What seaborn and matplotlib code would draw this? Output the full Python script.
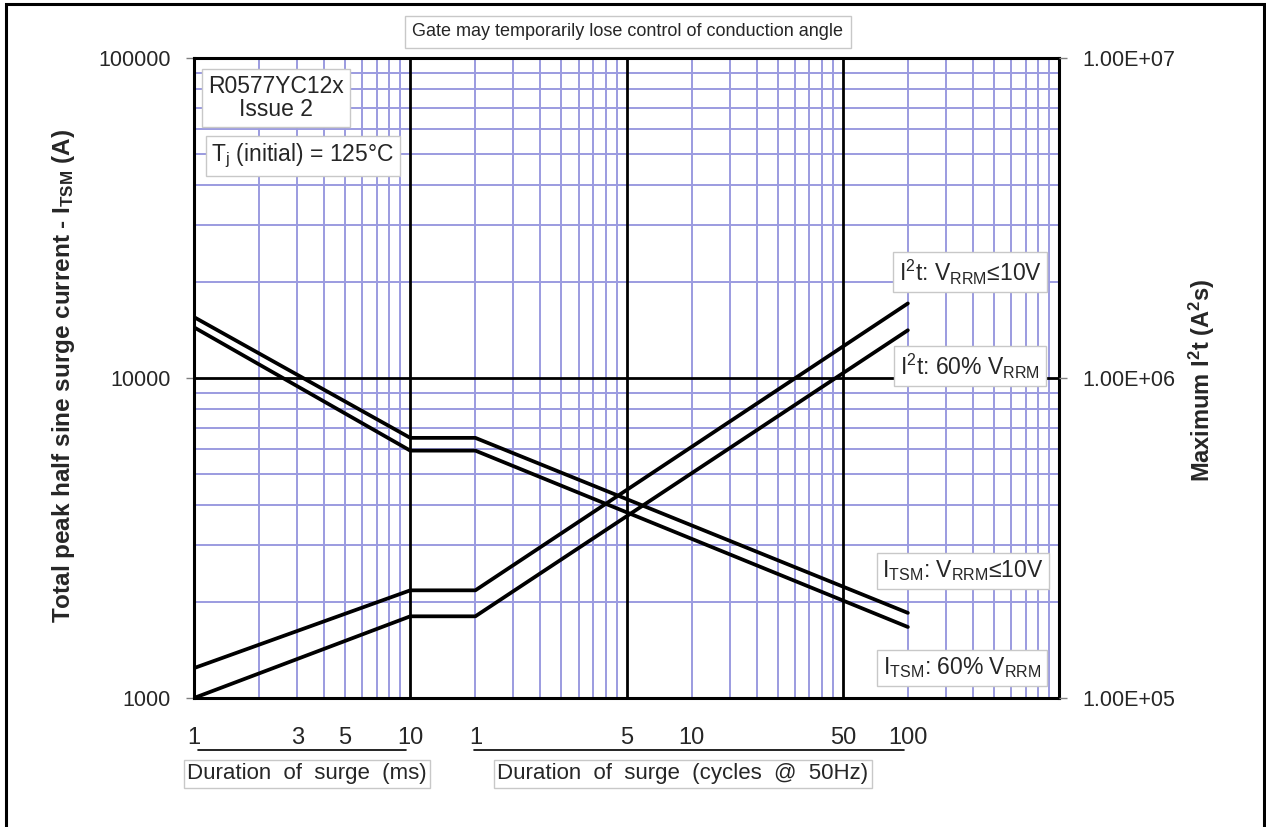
import seaborn as sns
import matplotlib.pyplot as plt
import matplotlib.ticker as mticker
import matplotlib.transforms as mtrans
from matplotlib.patches import Rectangle
import pandas as pd

# duration of surge in ms (1 cycle @ 50Hz = 20 ms)
t_ms = [1, 10, 20, 2000]
itsm_10v = [15500, 6500, 6500, 1845]
itsm_60 = [14400, 5930, 5930, 1667]
i2t_10v = [1.24e5, 2.17e5, 2.17e5, 1.71e6]
i2t_60 = [1.0e5, 1.80e5, 1.80e5, 1.41e6]

x_tick_pos = [1, 3, 5, 10, 20, 100, 200, 1000, 2000]
x_tick_lab = ['1', '3', '5', '10', '1', '5', '10', '50', '100']
y_ticks = [1000, 10000, 100000]
y_tick_lab = ['1000', '10000', '100000']
y2_ticks = [1e5, 1e6, 1e7]
y2_tick_lab = ['1.00E+05', '1.00E+06', '1.00E+07']

itsm = pd.DataFrame({'ms': t_ms * 2, 'val': itsm_10v + itsm_60,
                     'series': ['10V'] * 4 + ['60%'] * 4})
i2t = pd.DataFrame({'ms': t_ms * 2, 'val': i2t_10v + i2t_60,
                    'series': ['10V'] * 4 + ['60%'] * 4})

sns.set_style('white')
plt.rcParams['font.family'] = ['Liberation Sans', 'DejaVu Sans']
plt.rcParams['mathtext.fontset'] = 'custom'
plt.rcParams['mathtext.rm'] = 'Liberation Sans'
plt.rcParams['mathtext.it'] = 'Liberation Sans:italic'
plt.rcParams['mathtext.bf'] = 'Liberation Sans:bold'

W, H = 1266, 827
fig = plt.figure(figsize=(12.66, 8.27), dpi=100)
ax = fig.add_axes([194 / W, 1 - 698 / H, 865 / W, 640 / H])

ax.set_xscale('log')
ax.set_yscale('log')
ax.set_xlim(1, 10000)
ax.set_ylim(1000, 100000)

grid_col = '#9b9be0'
ax.xaxis.set_minor_locator(mticker.LogLocator(base=10, subs=range(2, 10), numticks=30))
ax.yaxis.set_minor_locator(mticker.LogLocator(base=10, subs=range(2, 10), numticks=30))
ax.xaxis.remove_overlapping_locs = False
ax.grid(which='minor', color=grid_col, lw=1.4)
ax.grid(which='major', axis='y', color='black', lw=2)
for d in [10, 100, 1000]:
    ax.axvline(d, color='black', lw=2, zorder=1.5)
ax.set_axisbelow(True)

sns.lineplot(data=itsm, x='ms', y='val', hue='series', palette=['black', 'black'],
             linewidth=2.7, legend=False, ax=ax, zorder=3)

ax.set_xticks(x_tick_pos)
ax.set_xticklabels(x_tick_lab, fontsize=17)
ax.set_yticks(y_ticks)
ax.set_yticklabels(y_tick_lab, fontsize=15.5)
ax.tick_params(axis='x', which='both', length=0, pad=21)
ax.tick_params(axis='y', which='major', length=6, width=1, color='#808080', direction='out', pad=11)
ax.tick_params(axis='y', which='minor', length=0)
ax.set_xlabel('')
ax.set_ylabel('')
for s in ax.spines.values():
    s.set_color('black')
    s.set_linewidth(2.2)

ax2 = ax.twinx()
ax2.set_yscale('log')
ax2.set_ylim(1e5, 1e7)
sns.lineplot(data=i2t, x='ms', y='val', hue='series', palette=['black', 'black'],
             linewidth=2.7, legend=False, ax=ax2)
ax2.set_yticks(y2_ticks)
ax2.set_yticklabels(y2_tick_lab, fontsize=15.5)
ax2.yaxis.set_minor_locator(mticker.NullLocator())
ax2.tick_params(axis='y', which='major', length=6, width=1, color='#808080', direction='out', pad=11)
ax2.set_ylabel('')
ax2.set_xlabel('')
ax2.grid(False)
for s in ax2.spines.values():
    s.set_visible(False)

# axis titles
fig.text(64 / W, 1 - 376 / H, r'Total peak half sine surge current - I$_{\mathbf{TSM}}$ (A)',
         rotation=90, ha='center', va='center', fontsize=17.5, fontweight='bold')
fig.text(1202 / W, 1 - 380 / H, r'Maximum I$^{\mathbf{2}}$t (A$^{\mathbf{2}}$s)',
         rotation=90, ha='center', va='center', fontsize=17, fontweight='bold')

# underlines below the x tick labels
trans = mtrans.blended_transform_factory(ax.transData, fig.transFigure)
ax.plot([1.04, 9.6], [1 - 750 / H] * 2, color='black', lw=1.2, transform=trans, clip_on=False)
ax.plot([19.8, 1925], [1 - 750 / H] * 2, color='black', lw=1.2, transform=trans, clip_on=False)


def note(x, y, s, size=16.5, pad=0.25, **kw):
    box = dict(boxstyle='square,pad=%s' % pad, facecolor='white', edgecolor='#c8c8c8', lw=1)
    fig.text(x / W, 1 - y / H, s, ha='center', va='center', fontsize=size, bbox=box,
             zorder=10, **kw)


note(628, 32, 'Gate may temporarily lose control of conduction angle', size=13, pad=0.4)
note(276, 98, 'R0577YC12x\nIssue 2', linespacing=1.05)
note(303, 156, r'T$_{\mathrm{j}}$ (initial) = 125°C')
note(970, 272, r'I$^{2}$t: V$_{\mathrm{RRM}}$≤10V')
note(970, 366, r'I$^{2}$t: 60% V$_{\mathrm{RRM}}$')
note(963, 571, r'I$_{\mathrm{TSM}}$: V$_{\mathrm{RRM}}$≤10V')
note(962, 668, r'I$_{\mathrm{TSM}}$: 60% V$_{\mathrm{RRM}}$')
note(307, 774, 'Duration  of  surge  (ms)', size=16, pad=0.15)
note(683, 774, 'Duration  of  surge  (cycles  @  50Hz)', size=16, pad=0.15)

# outer frame
fig.add_artist(Rectangle((6 / W, -0.05), 1258 / W, 1.05 - 4 / H, transform=fig.transFigure,
                         fill=False, edgecolor='black', lw=2.2, clip_on=False))

fig.savefig('out.png', dpi=100)
